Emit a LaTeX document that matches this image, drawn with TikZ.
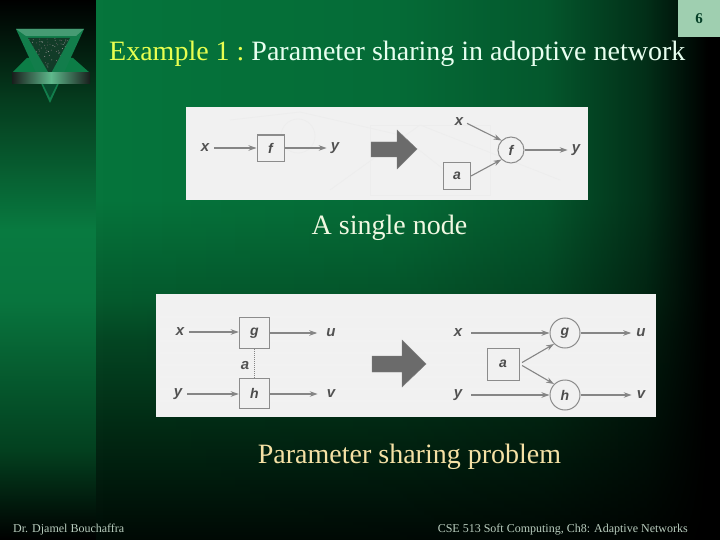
\documentclass[tikz,border=0pt]{standalone}
\usepackage{fontspec}
\setmainfont{Liberation Serif}
\newfontfamily\lblfont{Liberation Sans}
\usetikzlibrary{arrows.meta,fadings,calc}
\definecolor{ss0}{RGB}{3,64,31}\definecolor{ss1}{RGB}{8,117,62}\definecolor{ss2}{RGB}{8,122,64}\definecolor{ss3}{RGB}{5,60,30}
\pgfdeclareverticalshading{stripv}{100bp}{color(0bp)=(black);color(25bp)=(black);color(33.3bp)=(ss0);color(47.2bp)=(ss1);color(53.7bp)=(ss2);color(65.7bp)=(ss3);color(75bp)=(black);color(100bp)=(black)}
\definecolor{mm00}{RGB}{0,10,5}\definecolor{mm0}{RGB}{2,42,20}\definecolor{mm1}{RGB}{4,70,35}\definecolor{mm2}{RGB}{5,90,45}\definecolor{mm3}{RGB}{6,117,60}
\pgfdeclareverticalshading{mainv}{100bp}{color(0bp)=(mm00);color(25bp)=(mm00);color(35.2bp)=(mm0);color(43.5bp)=(mm1);color(47.2bp)=(mm2);color(56.5bp)=(mm3);color(75bp)=(mm3);color(100bp)=(mm3)}
\definecolor{ff1}{gray}{0.08}\definecolor{ff2}{gray}{0.25}\definecolor{ff3}{gray}{0.6}
\pgfdeclarehorizontalshading{xfshade}{100bp}{color(0bp)=(black);color(25bp)=(black);color(49bp)=(ff1);color(61bp)=(ff2);color(69bp)=(ff3);color(74bp)=(white);color(75bp)=(white);color(100bp)=(white)}
\pgfdeclarefading{xfade}{\pgfuseshading{xfshade}}
\definecolor{bandmid}{RGB}{95,185,140}
\definecolor{bandside}{RGB}{25,30,28}
\pgfdeclarehorizontalshading{bandshade}{100bp}{color(0bp)=(bandside);color(25bp)=(bandside);color(50bp)=(bandmid);color(75bp)=(bandside);color(100bp)=(bandside)}
\definecolor{linegray}{HTML}{858585}
\definecolor{panelbg}{HTML}{F1F1F1}
\tikzset{
  lbl/.style={font=\lblfont\itshape\bfseries\fontsize{15}{15}\selectfont,text=black!68,inner sep=1pt},
  boxn/.style={draw=black!45,fill=panelbg,line width=1pt,minimum width=#1,minimum height=#1,inner sep=0pt,font=\lblfont\itshape\bfseries\fontsize{14}{14}\selectfont,text=black!70},
  circn/.style={draw=black!45,fill=panelbg,circle,line width=1pt,minimum size=#1,inner sep=0pt,font=\lblfont\itshape\bfseries\fontsize{14}{14}\selectfont,text=black!70},
  conn/.style={draw=linegray,line width=1.1pt,-{Stealth[length=8pt,width=5.5pt,fill=linegray!80]}},
  blockarrow/.style={fill=black!58,draw=black!50,line width=0.4pt},
  caption/.style={font=\fontsize{28}{28}\selectfont,inner sep=0pt},
  foot/.style={font=\fontsize{12}{12}\selectfont,inner sep=0pt},
  ghost/.style={draw=black!7,line width=#1},
  ghost/.default=0.8pt
}
\begin{document}
\begin{tikzpicture}[x=1pt,y=-1pt]
\useasboundingbox (0,0) rectangle (720,540);
\clip (0,0) rectangle (720,540);
% backgrounds
\shade[shading=stripv] (0,0) rectangle (96,540);
\shade[shading=mainv] (96,0) rectangle (720,540);
\fill[black,path fading=xfade] (96,-1) rectangle (720,541);
% number tab
\node[fill={rgb,255:red,159;green,207;blue,176},minimum width=42pt,minimum height=37pt,inner sep=0pt,font=\bfseries\fontsize{15}{15}\selectfont,text={rgb,255:red,6;green,64;blue,40}] (pageno) at (699,18.5) {6};
% logo
\fill[fill={rgb,255:red,12;green,125;blue,70}] (12,73) -- (27,58) -- (73,58) -- (90,73) -- cycle;
\fill[fill={rgb,255:red,18;green,125;blue,75}] (16,29) -- (84,29) -- (50,103) -- cycle;
\fill[fill={rgb,255:red,70;green,155;blue,115}] (16,29) -- (84,29) -- (76,36) -- (26,36) -- cycle;
\fill[fill={rgb,255:red,18;green,60;blue,40}] (28,38) -- (70,38) -- (50,75) -- cycle;
\begin{scope}
\clip (28,38) -- (70,38) -- (50,75) -- cycle;
\pgfmathsetseed{7}
\foreach \i in {1,...,110}{
  \pgfmathsetmacro{\px}{28+42*rnd}
  \pgfmathsetmacro{\py}{38+36*rnd}
  \pgfmathsetmacro{\pg}{35+35*rnd}
  \fill[black!\pg!white] (\px,\py) circle (0.55pt);
}
\end{scope}
\fill[fill={rgb,255:red,8;green,75;blue,45}] (43,84) -- (57,84) -- (50,98) -- cycle;
\shade[shading=bandshade] (12,73) rectangle (90,84);
% panels
\fill[panelbg] (186,107) rectangle (588,200);
\fill[panelbg] (156,294) rectangle (656,417);
% show-through
\draw[ghost] (230,120) -- (300,112) -- (400,135) -- (470,190);
\draw[ghost] (330,190) -- (420,125) -- (560,180);
\draw[ghost] (370,125) rectangle (490,195);
\draw[ghost] (298,136) circle (17);
\foreach \yy/\xa/\xb in {317/160/650,329/160/650,341/160/650,353/160/650,365/160/650,377/160/650,389/160/650,401/160/640}{
  \draw[ghost=1.5pt,draw=black!5] (\xa,\yy) -- (\xb,\yy);
}
% first diagram
\node[lbl] (x1) at (205,148) {x};
\node[boxn=27pt] (f1) at (270.5,148) {f};
\fill[black!45] (f1.north west) rectangle ($(f1.north east)+(0,2.5)$);
\node[lbl] (y1) at (335,148) {y};
\draw[conn,shorten <=4pt] (x1.east) -- (x1.east -| f1.west);
\draw[conn,shorten >=3pt] (y1.west -| f1.east) -- (y1.west);
\fill[blockarrow] (371,142) -- (397,142) -- (397,130) -- (417,149) -- (397,169) -- (397,157) -- (371,157) -- cycle;
\node[lbl] (x2) at (459,122) {x};
\node[circn=26pt] (f2) at (511,150) {f};
\node[boxn=27pt] (a1) at (457,176) {a};
\node[lbl] (y2) at (576,150) {y};
\draw[conn,shorten <=3pt] (x2.east) -- (f2.north west);
\draw[conn] (a1.east) -- (f2.south west);
\draw[conn,shorten >=3pt] (f2.east) -- (y2.west);
% second diagram, left
\node[lbl] (x3) at (180,332) {x};
\node[boxn=30.5pt] (g1) at (254.5,333) {g};
\node[lbl] (u1) at (331,333) {u};
\node[lbl] (y3) at (178,394) {y};
\node[boxn=30.5pt] (h1) at (254.5,393.5) {h};
\node[lbl] (v1) at (331,394) {v};
\node[lbl] (a2) at (245,366) {a};
\draw[conn,shorten <=4pt] (x3.east) -- (x3.east -| g1.west);
\draw[conn,shorten >=8pt] (u1.west -| g1.east) -- (u1.west);
\draw[conn,shorten <=4pt] (y3.east) -- (y3.east -| h1.west);
\draw[conn,shorten >=8pt] (v1.west -| h1.east) -- (v1.west);
\draw[draw=linegray,line width=1pt,densely dotted] (g1.south) -- (h1.north);
\fill[blockarrow] (372,356) -- (402,356) -- (402,340) -- (426,364) -- (402,387) -- (402,372) -- (372,372) -- cycle;
% second diagram, right
\node[lbl] (x4) at (458,333) {x};
\node[circn=30pt] (g2) at (565,333) {g};
\node[lbl] (u2) at (641,333) {u};
\node[lbl] (y4) at (458,395) {y};
\node[circn=30pt] (h2) at (565,395) {h};
\node[lbl] (v2) at (641,395) {v};
\node[boxn=32pt] (a3) at (503,364) {a};
\draw[conn,shorten <=8pt] (x4.east) -- (g2.west);
\draw[conn,shorten >=4pt] (g2.east) -- (u2.west);
\draw[conn,shorten <=8pt] (y4.east) -- (h2.west);
\draw[conn,shorten >=4pt] (h2.east) -- (v2.west);
\draw[conn,shorten <=3pt] (a3.east) -- (g2.south west);
\draw[conn,shorten <=3pt] (a3.east) -- (h2.north west);
% texts
\node[caption,anchor=base west] (title) at (109,61) {\textcolor[RGB]{232,255,80}{Example 1 :}~\textcolor[RGB]{232,255,240}{Parameter sharing in adoptive network}};
\node[caption,text={rgb,255:red,240;green,248;blue,225},anchor=base] (cap1) at (389.5,234) {A single node};
\node[caption,text={rgb,255:red,245;green,225;blue,165},anchor=base] (cap2) at (409.5,463) {Parameter sharing problem};
\node[foot,text={rgb,255:red,185;green,205;blue,190},anchor=base west] (footl) at (13,532) {Dr. Djamel Bouchaffra};
\node[foot,text={rgb,255:red,185;green,205;blue,190},anchor=base east] (footr) at (688,532) {CSE 513 Soft Computing, Ch8: Adaptive Networks};
\end{tikzpicture}
\end{document}
